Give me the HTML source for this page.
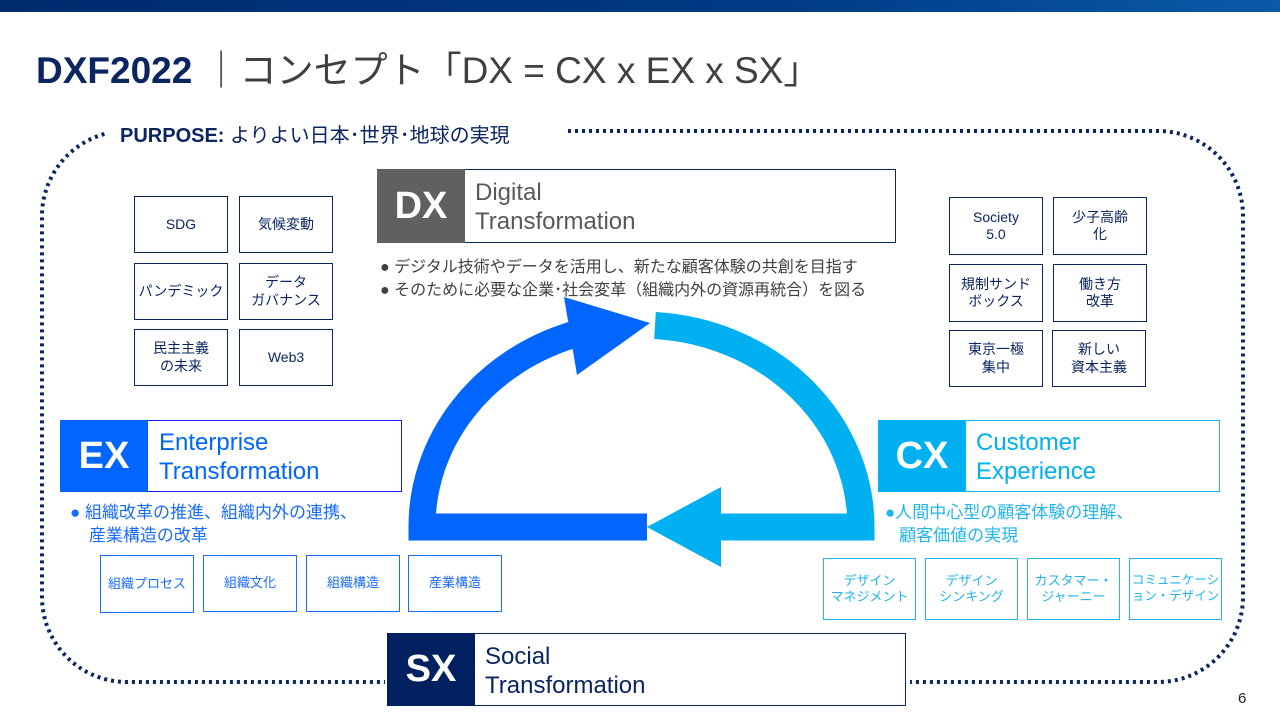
<!DOCTYPE html>
<html><head><meta charset="utf-8"><style>
*{margin:0;padding:0;box-sizing:border-box}
body{width:1280px;height:720px;position:relative;background:#fff;overflow:hidden;font-family:"Liberation Sans","Noto Sans CJK JP",sans-serif}
.a{position:absolute}
.b{position:absolute;display:flex;align-items:center;justify-content:center;text-align:center;line-height:1.25}
.g{border:1.5px solid #0b2560;color:#0b2560;font-size:14px;background:#fff}
.e{border:1.5px solid #1a6cff;color:#1a6cff;font-size:13px;background:#fff}
.c{border:1.5px solid #22b4ee;color:#22b4ee;font-size:13px;background:#fff}
.sq{position:absolute;display:flex;align-items:center;justify-content:center;color:#fff;font-weight:bold;font-size:38px}
.tt{position:absolute;font-size:24px;line-height:29px}
</style></head><body>
<div class="a" style="left:0;top:0;width:1280px;height:12px;background:linear-gradient(90deg,#002a6e,#003a85 60%,#0a5aa8)"></div>
<div class="a" style="left:36px;top:40px;font-size:37px;white-space:nowrap;color:#404040"><b style="color:#0b2560">DXF2022</b> ｜コンセプト「DX = CX x EX x SX」</div>
<svg class="a" style="left:0;top:0" width="1280" height="720">
<rect x="42" y="131" width="1201" height="551" rx="85" fill="none" stroke="#0b2560" stroke-width="4" stroke-dasharray="3 4"/>
<rect x="108" y="118" width="457" height="28" fill="#fff"/>
<rect x="385" y="660" width="525" height="50" fill="#fff"/>
<path d="M655 325.5 A220 202 0 0 1 861 527 L721 527" fill="none" stroke="#00b0f0" stroke-width="27"/>
<polygon points="647,527 721,487 721,567" fill="#00b0f0"/>
<path d="M647 527 L422 527 A220 202 0 0 1 572 335" fill="none" stroke="#0066ff" stroke-width="27"/>
<polygon points="650,323 564,297 577,375" fill="#0066ff"/>
</svg>
<div class="a" style="left:120px;top:119px;font-size:20px;color:#0b2560;white-space:nowrap"><b>PURPOSE:</b> よりよい日本･世界･地球の実現</div>
<div class="b g" style="left:134px;top:196px;width:94px;height:57px">SDG</div>
<div class="b g" style="left:239px;top:196px;width:94px;height:57px">気候変動</div>
<div class="b g" style="left:134px;top:263px;width:94px;height:57px">パンデミック</div>
<div class="b g" style="left:239px;top:263px;width:94px;height:57px">データ<br>ガバナンス</div>
<div class="b g" style="left:134px;top:329px;width:94px;height:57px">民主主義<br>の未来</div>
<div class="b g" style="left:239px;top:329px;width:94px;height:57px">Web3</div>
<div class="b g" style="left:949px;top:197px;width:94px;height:58px">Society<br>5.0</div>
<div class="b g" style="left:1053px;top:197px;width:94px;height:58px">少子高齢<br>化</div>
<div class="b g" style="left:949px;top:264px;width:94px;height:58px">規制サンド<br>ボックス</div>
<div class="b g" style="left:1053px;top:264px;width:94px;height:58px">働き方<br>改革</div>
<div class="b g" style="left:949px;top:330px;width:94px;height:57px">東京一極<br>集中</div>
<div class="b g" style="left:1052px;top:330px;width:94px;height:57px">新しい<br>資本主義</div>
<div class="a" style="left:377px;top:169px;width:519px;height:74px;border:1.5px solid #0b2560"></div>
<div class="sq" style="left:377px;top:169px;width:88px;height:74px;background:#606060">DX</div>
<div class="tt" style="left:475px;top:178px;color:#595959">Digital<br>Transformation</div>
<div class="a" style="left:380px;top:256px;font-size:16px;line-height:23px;color:#404040;white-space:nowrap">● デジタル技術やデータを活用し、新たな顧客体験の共創を目指す<br>● そのために必要な企業･社会変革（組織内外の資源再統合）を図る</div>
<div class="a" style="left:60px;top:420px;width:342px;height:72px;border:1.5px solid #1a1aff;background:#fff"></div>
<div class="sq" style="left:60px;top:420px;width:88px;height:72px;background:#0066ff">EX</div>
<div class="tt" style="left:159px;top:428px;color:#0066ff">Enterprise<br>Transformation</div>
<div class="a" style="left:70px;top:501px;font-size:17px;line-height:23px;color:#1a6cff;white-space:nowrap">● 組織改革の推進、組織内外の連携、<br>&nbsp;&nbsp;&nbsp;&nbsp;産業構造の改革</div>
<div class="b e" style="left:100px;top:555px;width:94px;height:58px">組織プロセス</div>
<div class="b e" style="left:203px;top:555px;width:94px;height:57px">組織文化</div>
<div class="b e" style="left:306px;top:555px;width:94px;height:57px">組織構造</div>
<div class="b e" style="left:408px;top:555px;width:94px;height:57px">産業構造</div>
<div class="a" style="left:878px;top:420px;width:342px;height:72px;border:1.5px solid #22b4ee;background:#fff"></div>
<div class="sq" style="left:878px;top:420px;width:88px;height:72px;background:#00b0f0">CX</div>
<div class="tt" style="left:976px;top:428px;color:#00b0f0">Customer<br>Experience</div>
<div class="a" style="left:885px;top:501px;font-size:17px;line-height:23px;color:#22b4ee;white-space:nowrap">●人間中心型の顧客体験の理解、<br>&nbsp;&nbsp;&nbsp;顧客価値の実現</div>
<div class="b c" style="left:823px;top:558px;width:93px;height:62px">デザイン<br>マネジメント</div>
<div class="b c" style="left:925px;top:558px;width:93px;height:62px">デザイン<br>シンキング</div>
<div class="b c" style="left:1027px;top:558px;width:93px;height:62px">カスタマー・<br>ジャーニー</div>
<div class="b c" style="left:1129px;top:558px;width:93px;height:62px;font-size:12.5px">コミュニケーシ<br>ョン・デザイン</div>
<div class="a" style="left:387px;top:633px;width:519px;height:73px;border:1.5px solid #0b2560;background:#fff"></div>
<div class="sq" style="left:387px;top:633px;width:88px;height:73px;background:#002060">SX</div>
<div class="tt" style="left:485px;top:642px;color:#0b2560">Social<br>Transformation</div>
<div class="a" style="left:1238px;top:690px;font-size:15px;color:#222">6</div>
</body></html>
